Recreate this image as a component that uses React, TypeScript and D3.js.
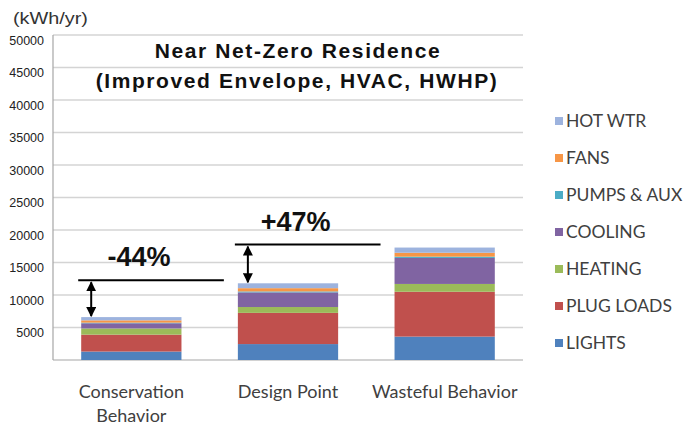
import React from "react";
import * as d3 from "d3";

// Annual energy use by end use, kWh/yr
const scenarios = ["Conservation Behavior", "Design Point", "Wasteful Behavior"];
const scenarioLines = [["Conservation", "Behavior"], ["Design Point"], ["Wasteful Behavior"]];
const endUses = ["LIGHTS", "PLUG LOADS", "HEATING", "COOLING", "PUMPS & AUX", "FANS", "HOT WTR"];
const lights = [1300, 2450, 3600];
const plugLoads = [2600, 4800, 6900];
const heating = [950, 900, 1200];
const cooling = [800, 2250, 4000];
const pumpsAux = [100, 150, 200];
const fans = [350, 500, 600];
const hotWater = [500, 750, 800];
const yTicks = [5000, 10000, 15000, 20000, 25000, 30000, 35000, 40000, 45000, 50000];

const colors = ["#4F81BD", "#C0504D", "#9BBB59", "#8064A2", "#4BACC6", "#F79646", "#9DB3DE"];

const W = 692;
const H = 428;
const plot = { left: 53, right: 523, top: 35, bottom: 360 };

export default function App() {
  const seriesValues = [lights, plugLoads, heating, cooling, pumpsAux, fans, hotWater];
  const rows = scenarios.map((s, i) => {
    const r: Record<string, any> = { scenario: s };
    endUses.forEach((u, k) => (r[u] = seriesValues[k][i]));
    return r;
  });
  const stacked = d3.stack<any>().keys(endUses)(rows);
  const totals = rows.map((r) => d3.sum(endUses, (u) => r[u] as number));

  const x = d3
    .scaleBand<string>()
    .domain(scenarios)
    .range([plot.left, plot.right])
    .paddingInner(0.36)
    .paddingOuter(0.18);
  const y = d3.scaleLinear().domain([0, 50000]).range([plot.bottom, plot.top]);

  const color = d3.scaleOrdinal<string, string>().domain(endUses).range(colors);

  const base = totals[1];
  const pct = (v: number) => Math.round(((v - base) / base) * 100);
  const fmtPct = (p: number) => (p > 0 ? `+${p}%` : `-${Math.abs(p)}%`);

  // Comparison callouts: a reference line at a higher scenario's total, with an arrow down to the lower bar
  const callouts = [
    { from: 0, ref: 1, label: fmtPct(pct(totals[0])) },
    { from: 1, ref: 2, label: fmtPct(pct(totals[2])) },
  ];

  const legendY = d3.scaleLinear().domain([0, endUses.length - 1]).range([343, 121]);

  return (
    <svg width={W} height={H} style={{ position: "absolute", left: 0, top: 0 }}>
      <defs>
        <marker id="ah" viewBox="0 0 10 10" refX="9" refY="5" markerWidth="5" markerHeight="5" orient="auto-start-reverse">
          <path d="M0,0 L10,5 L0,10 z" fill="#000" />
        </marker>
      </defs>
      <rect width={W} height={H} fill="#fff" />

      {/* gridlines */}
      {yTicks.map((t) => (
        <line key={t} x1={plot.left} x2={plot.right} y1={y(t)} y2={y(t)} stroke="#d4d4d4" strokeWidth={1.4} />
      ))}
      {/* axes */}
      <line x1={plot.left} x2={plot.left} y1={plot.top} y2={plot.bottom} stroke="#a6a6a6" strokeWidth={1.2} />
      <line x1={plot.left} x2={plot.right} y1={plot.bottom} y2={plot.bottom} stroke="#a6a6a6" strokeWidth={1.2} />

      {/* y tick labels, set slightly below their gridlines */}
      {yTicks.map((t) => (
        <text
          key={t}
          x={44}
          y={y(t) + 9.5}
          textAnchor="end"
          fontFamily="Liberation Sans, Arial, sans-serif"
          fontSize={12.5}
          fill="#222"
        >
          {t}
        </text>
      ))}
      <text x={13} y={24} fontFamily="Liberation Sans, Arial, sans-serif" fontSize={17} fill="#333" textLength={75} lengthAdjust="spacingAndGlyphs">
        (kWh/yr)
      </text>

      {/* stacked bars */}
      {stacked.map((layer) => (
        <g key={layer.key} fill={color(layer.key)}>
          {layer.map((d, i) => (
            <rect
              key={i}
              x={x(scenarios[i])!}
              width={x.bandwidth()}
              y={y(d[1])}
              height={y(d[0]) - y(d[1])}
            />
          ))}
        </g>
      ))}

      {/* title */}
      <g fontFamily="Liberation Sans, Arial, sans-serif" fontWeight="bold" fill="#111" textAnchor="middle">
        <text x={298} y={58} fontSize={21} letterSpacing={1.6}>Near Net-Zero Residence</text>
        <text x={297} y={88} fontSize={21} letterSpacing={1.6}>(Improved Envelope, HVAC, HWHP)</text>
      </g>

      {/* callouts */}
      {callouts.map((c, i) => {
        const lineY = y(totals[c.ref]) - 3;
        const x0 = x(scenarios[c.from])! - 3;
        const x1 = x(scenarios[c.from + 1])! - 14;
        const ax = x(scenarios[c.from])! + 10;
        return (
          <g key={i}>
            <line x1={x0} x2={x1} y1={lineY} y2={lineY} stroke="#000" strokeWidth={2} />
            <line
              x1={ax}
              x2={ax}
              y1={lineY + 2}
              y2={y(totals[c.from]) - 1}
              stroke="#000"
              strokeWidth={2}
              markerStart="url(#ah)"
              markerEnd="url(#ah)"
            />
            <text
              x={(x0 + x1) / 2 - 12}
              y={lineY - 14}
              textAnchor="middle"
              fontFamily="Liberation Sans, Arial, sans-serif"
              fontWeight="bold"
              fontSize={27}
              fill="#111"
            >
              {c.label}
            </text>
          </g>
        );
      })}

      {/* category labels */}
      {scenarioLines.map((lines, i) => (
        <text
          key={i}
          x={x(scenarios[i])! + x.bandwidth() / 2}
          textAnchor="middle"
          fontFamily="Lato, sans-serif"
          fontSize={18}
          fill="#404040"
        >
          {lines.map((l, k) => (
            <tspan key={k} x={x(scenarios[i])! + x.bandwidth() / 2} y={398 + k * 24}>
              {l}
            </tspan>
          ))}
        </text>
      ))}

      {/* legend */}
      {endUses.map((u, k) => (
        <g key={u} transform={`translate(555,${legendY(k)})`}>
          <rect x={0} y={-4} width={8} height={8} fill={color(u)} />
          <text x={11} y={6} fontFamily="Lato, sans-serif" fontSize={17.5} fill="#404040">
            {u}
          </text>
        </g>
      ))}
    </svg>
  );
}
